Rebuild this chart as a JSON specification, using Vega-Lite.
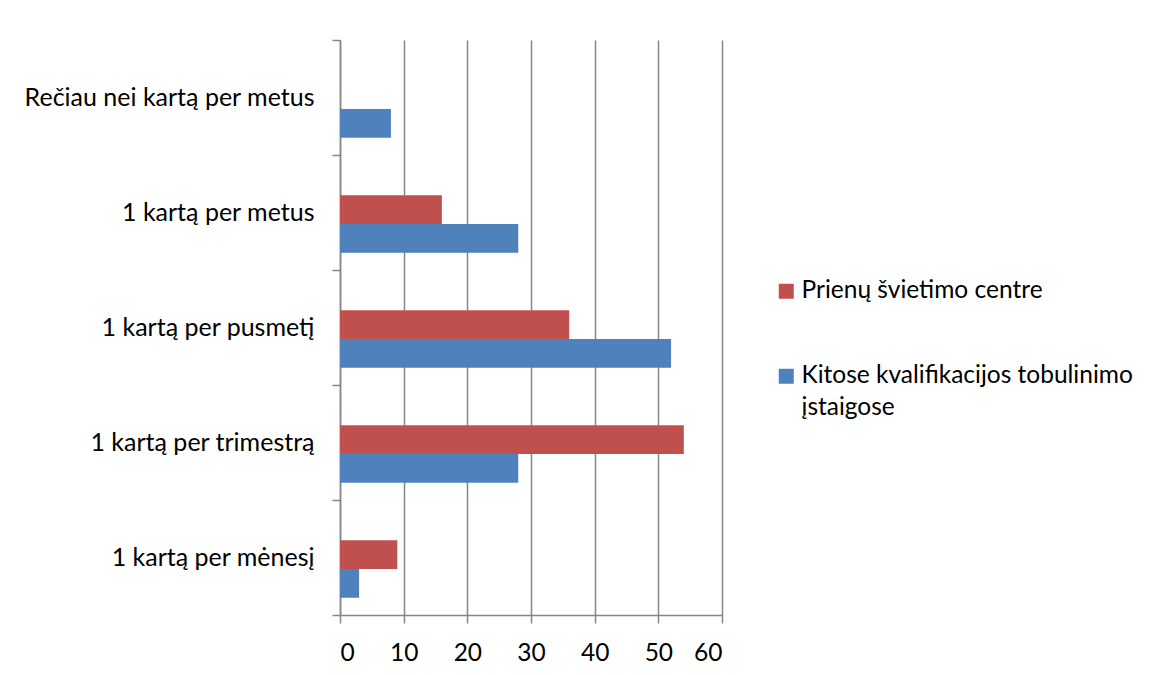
{
  "$schema": "https://vega.github.io/schema/vega-lite/v6.json",
  "autosize": "none",
  "width": 382,
  "height": 575,
  "padding": {"left": 340, "top": 40, "right": 427, "bottom": 60},
  "background": "white",
  "data": {
    "values": [
      {"kategorija": "Rečiau nei kartą per metus", "serija": "Prienų švietimo centre", "reiksme": 0},
      {"kategorija": "Rečiau nei kartą per metus", "serija": "Kitose kvalifikacijos tobulinimo įstaigose", "reiksme": 8},
      {"kategorija": "1 kartą per metus", "serija": "Prienų švietimo centre", "reiksme": 16},
      {"kategorija": "1 kartą per metus", "serija": "Kitose kvalifikacijos tobulinimo įstaigose", "reiksme": 28},
      {"kategorija": "1 kartą per pusmetį", "serija": "Prienų švietimo centre", "reiksme": 36},
      {"kategorija": "1 kartą per pusmetį", "serija": "Kitose kvalifikacijos tobulinimo įstaigose", "reiksme": 52},
      {"kategorija": "1 kartą per trimestrą", "serija": "Prienų švietimo centre", "reiksme": 54},
      {"kategorija": "1 kartą per trimestrą", "serija": "Kitose kvalifikacijos tobulinimo įstaigose", "reiksme": 28},
      {"kategorija": "1 kartą per mėnesį", "serija": "Prienų švietimo centre", "reiksme": 9},
      {"kategorija": "1 kartą per mėnesį", "serija": "Kitose kvalifikacijos tobulinimo įstaigose", "reiksme": 3}
    ]
  },
  "mark": {"type": "bar"},
  "encoding": {
    "y": {
      "field": "kategorija",
      "type": "nominal",
      "sort": ["Rečiau nei kartą per metus", "1 kartą per metus", "1 kartą per pusmetį", "1 kartą per trimestrą", "1 kartą per mėnesį"],
      "scale": {"paddingInner": 0, "paddingOuter": 0},
      "axis": {
        "title": null,
        "tickBand": "extent",
        "grid": false,
        "domainColor": "#868686",
        "domainWidth": 1.5,
        "tickColor": "#868686",
        "tickWidth": 1.5,
        "tickSize": 8,
        "labelPadding": 18,
        "labelFont": "Lato",
        "labelFontSize": 25,
        "labelColor": "#000000",
        "labelLimit": 400
      }
    },
    "yOffset": {
      "field": "serija",
      "type": "nominal",
      "sort": ["Prienų švietimo centre", "Kitose kvalifikacijos tobulinimo įstaigose"],
      "scale": {"paddingInner": 0, "paddingOuter": 1.255, "align": 0.7}
    },
    "x": {
      "field": "reiksme",
      "type": "quantitative",
      "scale": {"domain": [0, 60], "nice": false},
      "axis": {
        "title": null,
        "values": [0, 10, 20, 30, 40, 50, 60],
        "grid": true,
        "gridColor": "#868686",
        "gridWidth": 1.5,
        "domainColor": "#868686",
        "domainWidth": 1.5,
        "tickColor": "#868686",
        "tickWidth": 1.5,
        "tickSize": 8,
        "labelPadding": 18,
        "labelFont": "Lato",
        "labelFontSize": 24.5,
        "labelColor": "#000000"
      }
    },
    "color": {
      "field": "serija",
      "type": "nominal",
      "sort": ["Prienų švietimo centre", "Kitose kvalifikacijos tobulinimo įstaigose"],
      "scale": {
        "domain": ["Prienų švietimo centre", "Kitose kvalifikacijos tobulinimo įstaigose"],
        "range": ["#C0504D", "#4F81BD"]
      },
      "legend": {
        "title": null,
        "orient": "none",
        "legendX": 434,
        "legendY": 239,
        "symbolType": "square",
        "symbolSize": 225,
        "symbolStrokeWidth": 0,
        "labelFont": "Lato",
        "labelFontSize": 24.5,
        "labelColor": "#000000",
        "labelLimit": 500,
        "rowPadding": 60,
        "labelOffset": 3,
        "labelExpr": "datum.label == 'Kitose kvalifikacijos tobulinimo įstaigose' ? ['Kitose kvalifikacijos tobulinimo', 'įstaigose'] : datum.label"
      }
    }
  },
  "config": {
    "view": {"stroke": null},
    "style": {"guide-label": {"lineHeight": 32}}
  }
}
